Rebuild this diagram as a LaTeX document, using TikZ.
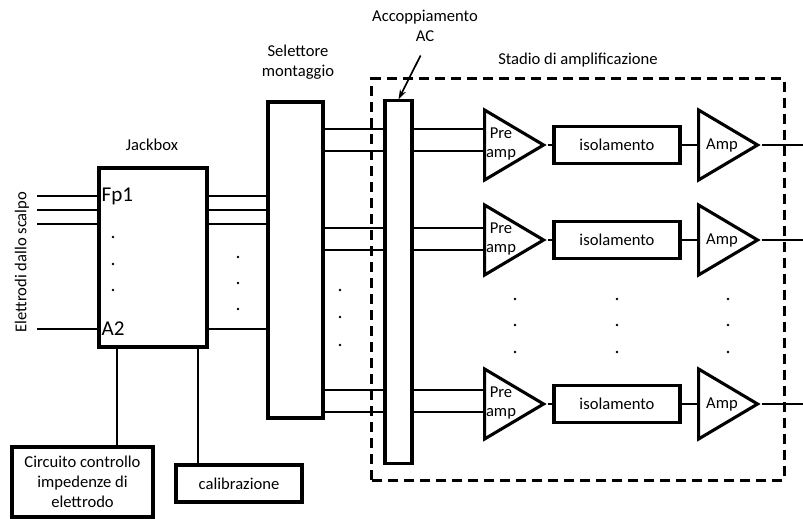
\documentclass[tikz,border=0pt]{standalone}
\usepackage{fontspec}
\setmainfont{Carlito}
\usetikzlibrary{arrows.meta, positioning, shapes.geometric}

\begin{document}
\begin{tikzpicture}[
    x=0.025cm,
    y=-0.025cm,
    font=\fontsize{11.8}{14.2}\selectfont,
    block/.style={rectangle, draw, line width=2.2pt, inner sep=0pt},
    wire/.style={line width=1.5pt},
    amp/.style={isosceles triangle, isosceles triangle stretches, draw, line width=2.2pt,
                inner sep=0pt, minimum width=1.75cm, minimum height=1.475cm, anchor=west},
]
    \useasboundingbox (0,0) rectangle (803,519);

    % boxes
    \node[block, minimum width=2.7cm,   minimum height=4.475cm] (J)    at (153,257.5) {};
    \node[block, minimum width=1.375cm, minimum height=7.9cm]   (Sel)  at (295.5,260) {};
    \node[block, minimum width=0.675cm, minimum height=9.05cm]  (AC)   at (398.5,282) {};
    \node[block, minimum width=3.525cm, minimum height=1.75cm, align=center] (Circ) at (82.5,482)
        {Circuito controllo\\impedenze di\\elettrodo};
    \node[block, minimum width=3.15cm,  minimum height=0.925cm] (Cal)  at (239,483.5) {calibrazione};
    \node[rectangle, draw, dashed, dash pattern=on 0.25cm off 0.15cm, line width=2.2pt,
          minimum width=10.3cm, minimum height=10.025cm] (stage) at (578,279.5) {};

    % labels
    \node (Jlab)   at (152,145) {Jackbox};
    \node[align=center] (Sellab) at (298,62) {Selettore\\montaggio};
    \node[align=center] (AClab)  at (425,26) {Accoppiamento\\AC};
    \node (stagelab) at (578,60) {Stadio di amplificazione};
    \node[rotate=90] (elab) at (22,262) {Elettrodi dallo scalpo};
    \node[anchor=west, inner sep=1pt, font=\fontsize{15}{18}\selectfont] (Fp1) at (100,196) {Fp1};
    \node[anchor=west, inner sep=1pt, font=\fontsize{15}{18}\selectfont] (A2)  at (100,329) {A2};

    \draw[line width=1.2pt, -{Stealth[length=7pt, width=4.5pt]}, shorten <=7pt] (AClab.south) -- (AC.north);

    % electrodes
    \foreach \y in {196,210,224,329} {
        \coordinate (in\y) at (37,\y);
        \draw[wire] (in\y) -- (J.west |- in\y);
        \draw[wire] (J.east |- in\y) -- (Sel.west |- in\y);
    }

    \draw[wire] (J.south -| 117,0) -- (Circ.north -| 117,0);
    \draw[wire] (J.south -| 198,0) -- (Cal.north -| 198,0);

    % channels
    \foreach \c/\ya/\yb [count=\k] in {145/129/151, 240/228/250, 404/390/412} {
        \node[amp] (P\k) at (483,\c) {};
        \node[align=center] (Plab\k) at (501,\c-1) {Pre\\amp};
        \node[block, minimum width=3.15cm, minimum height=0.925cm] (I\k) at (617,\c) {isolamento};
        \node[amp] (A\k) at (697,\c) {};
        \node (Alab\k) at (722,\c+1) {Amp};
        \coordinate (out\k) at (803,\c);
        \draw[wire] (Sel.east |- 0,\ya) -- (AC.west |- 0,\ya);
        \draw[wire] (Sel.east |- 0,\yb) -- (AC.west |- 0,\yb);
        \draw[wire] (AC.east |- 0,\ya) -- (P\k.west |- 0,\ya);
        \draw[wire] (AC.east |- 0,\yb) -- (P\k.west |- 0,\yb);
        \draw[wire] (P\k.east) -- (I\k.west);
        \draw[wire] (I\k.east) -- (A\k.west);
        \draw[wire] (A\k.east) -- (out\k);
    }

    % dots
    \foreach \x/\ys in {113/{237,264,290}, 238/{257,283,309}, 340/{290,317,345},
                        515/{299,325,352}, 617/{299,325,352}, 728/{299,325,352}}
        \foreach \y in \ys
            \fill (\x,\y) circle (0.9pt);
\end{tikzpicture}
\end{document}
